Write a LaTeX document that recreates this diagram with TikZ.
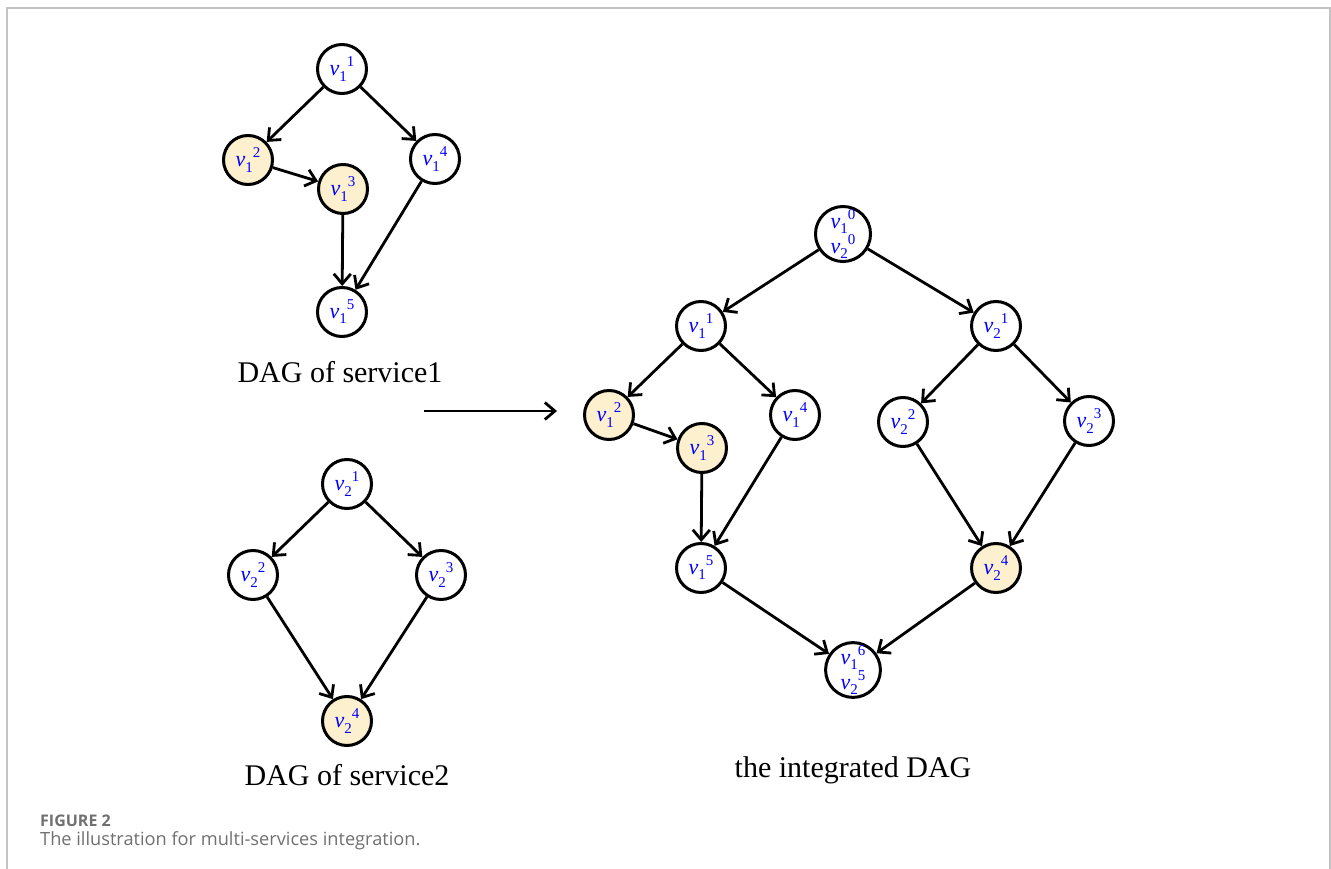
\documentclass[tikz,border=0pt]{standalone}
\usepackage{fontspec}
\setmainfont{Liberation Serif}
\newfontfamily\capfont{Open Sans}
\usepackage{xcolor}
\usetikzlibrary{arrows.meta}

\definecolor{hitfill}{RGB}{253,240,206}
\definecolor{capgray}{RGB}{112,112,112}
\definecolor{framegray}{RGB}{195,195,195}

% v with index below and step number above
\newcommand{\vlab}[2]{\textit{v}\raisebox{-0.5ex}{\fontsize{15}{15}\selectfont #1}\raisebox{0.9ex}{\fontsize{15}{15}\selectfont #2}}

\begin{document}
\begin{tikzpicture}[x=1pt, y=-1pt,
    vtx/.style={circle, draw=black, line width=3pt, minimum size=49pt, inner sep=0pt,
        text=blue, font=\fontsize{22}{22}\selectfont},
    hit/.style={vtx, fill=hitfill},
    edge/.style={-{Straight Barb[length=10pt, width=17pt]}, line width=2.8pt},
    ttl/.style={font=\fontsize{30}{30}\selectfont}]
    \useasboundingbox (0,0) rectangle (1331,869);
    \draw[framegray, line width=1.5pt] (7,869) -- (7,8) -- (1330,8) -- (1330,869);

    % DAG of service1
    \node[vtx] (a1) at (342,69) {\vlab{1}{1}};
    \node[hit] (a2) at (248,160) {\vlab{1}{2}};
    \node[hit] (a3) at (343,189) {\vlab{1}{3}};
    \node[vtx] (a4) at (435,159) {\vlab{1}{4}};
    \node[vtx] (a5) at (342,312) {\vlab{1}{5}};
    \foreach \s/\t in {a1/a2, a1/a4, a2/a3, a3/a5, a4/a5} {
        \draw[edge] (\s) -- (\t);
    }
    \node[ttl] (lbla) at (340,372) {DAG of service1};

    % DAG of service2
    \node[vtx] (b1) at (347,484) {\vlab{2}{1}};
    \node[vtx] (b2) at (253,575) {\vlab{2}{2}};
    \node[vtx] (b3) at (441,575) {\vlab{2}{3}};
    \node[hit] (b4) at (347,721) {\vlab{2}{4}};
    \foreach \s/\t in {b1/b2, b1/b3, b2/b4, b3/b4} {
        \draw[edge] (\s) -- (\t);
    }
    \node[ttl] (lblb) at (347,775) {DAG of service2};

    % merge arrow
    \coordinate (mfrom) at (424,411);
    \coordinate (mto) at (557,411);
    \draw[edge] (mfrom) -- (mto);

    % the integrated DAG
    \node[vtx, align=center, font=\fontsize{22}{18}\selectfont] (c0) at (843,234) {\vlab{1}{0}\\\vlab{2}{0}};
    \node[vtx] (c1) at (701,326) {\vlab{1}{1}};
    \node[hit] (c2) at (609,415) {\vlab{1}{2}};
    \node[hit] (c3) at (702,448) {\vlab{1}{3}};
    \node[vtx] (c4) at (795,415) {\vlab{1}{4}};
    \node[vtx] (c5) at (701,568) {\vlab{1}{5}};
    \node[vtx] (d1) at (996,326) {\vlab{2}{1}};
    \node[vtx] (d2) at (903,422) {\vlab{2}{2}};
    \node[vtx] (d3) at (1089,421) {\vlab{2}{3}};
    \node[hit] (d4) at (996,568) {\vlab{2}{4}};
    \node[vtx, align=center, font=\fontsize{22}{18}\selectfont] (c6) at (853,670) {\vlab{1}{6}\\\vlab{2}{5}};
    \foreach \s/\t in {c0/c1, c0/d1, c1/c2, c1/c4, c2/c3, c3/c5, c4/c5, c5/c6,
                       d1/d2, d1/d3, d2/d4, d3/d4, d4/c6} {
        \draw[edge] (\s) -- (\t);
    }
    \node[ttl] (lblc) at (853,770) {the integrated DAG};

    % caption
    \node[anchor=base west, inner sep=0pt, text=capgray, font=\capfont\bfseries\fontsize{16}{16}\selectfont] (capno) at (40,826) {FIGURE 2};
    \node[anchor=base west, inner sep=0pt, text=capgray, font=\capfont\fontsize{18.2}{18.2}\selectfont] (captxt) at (40,845) {The illustration for multi-services integration.};
\end{tikzpicture}
\end{document}
